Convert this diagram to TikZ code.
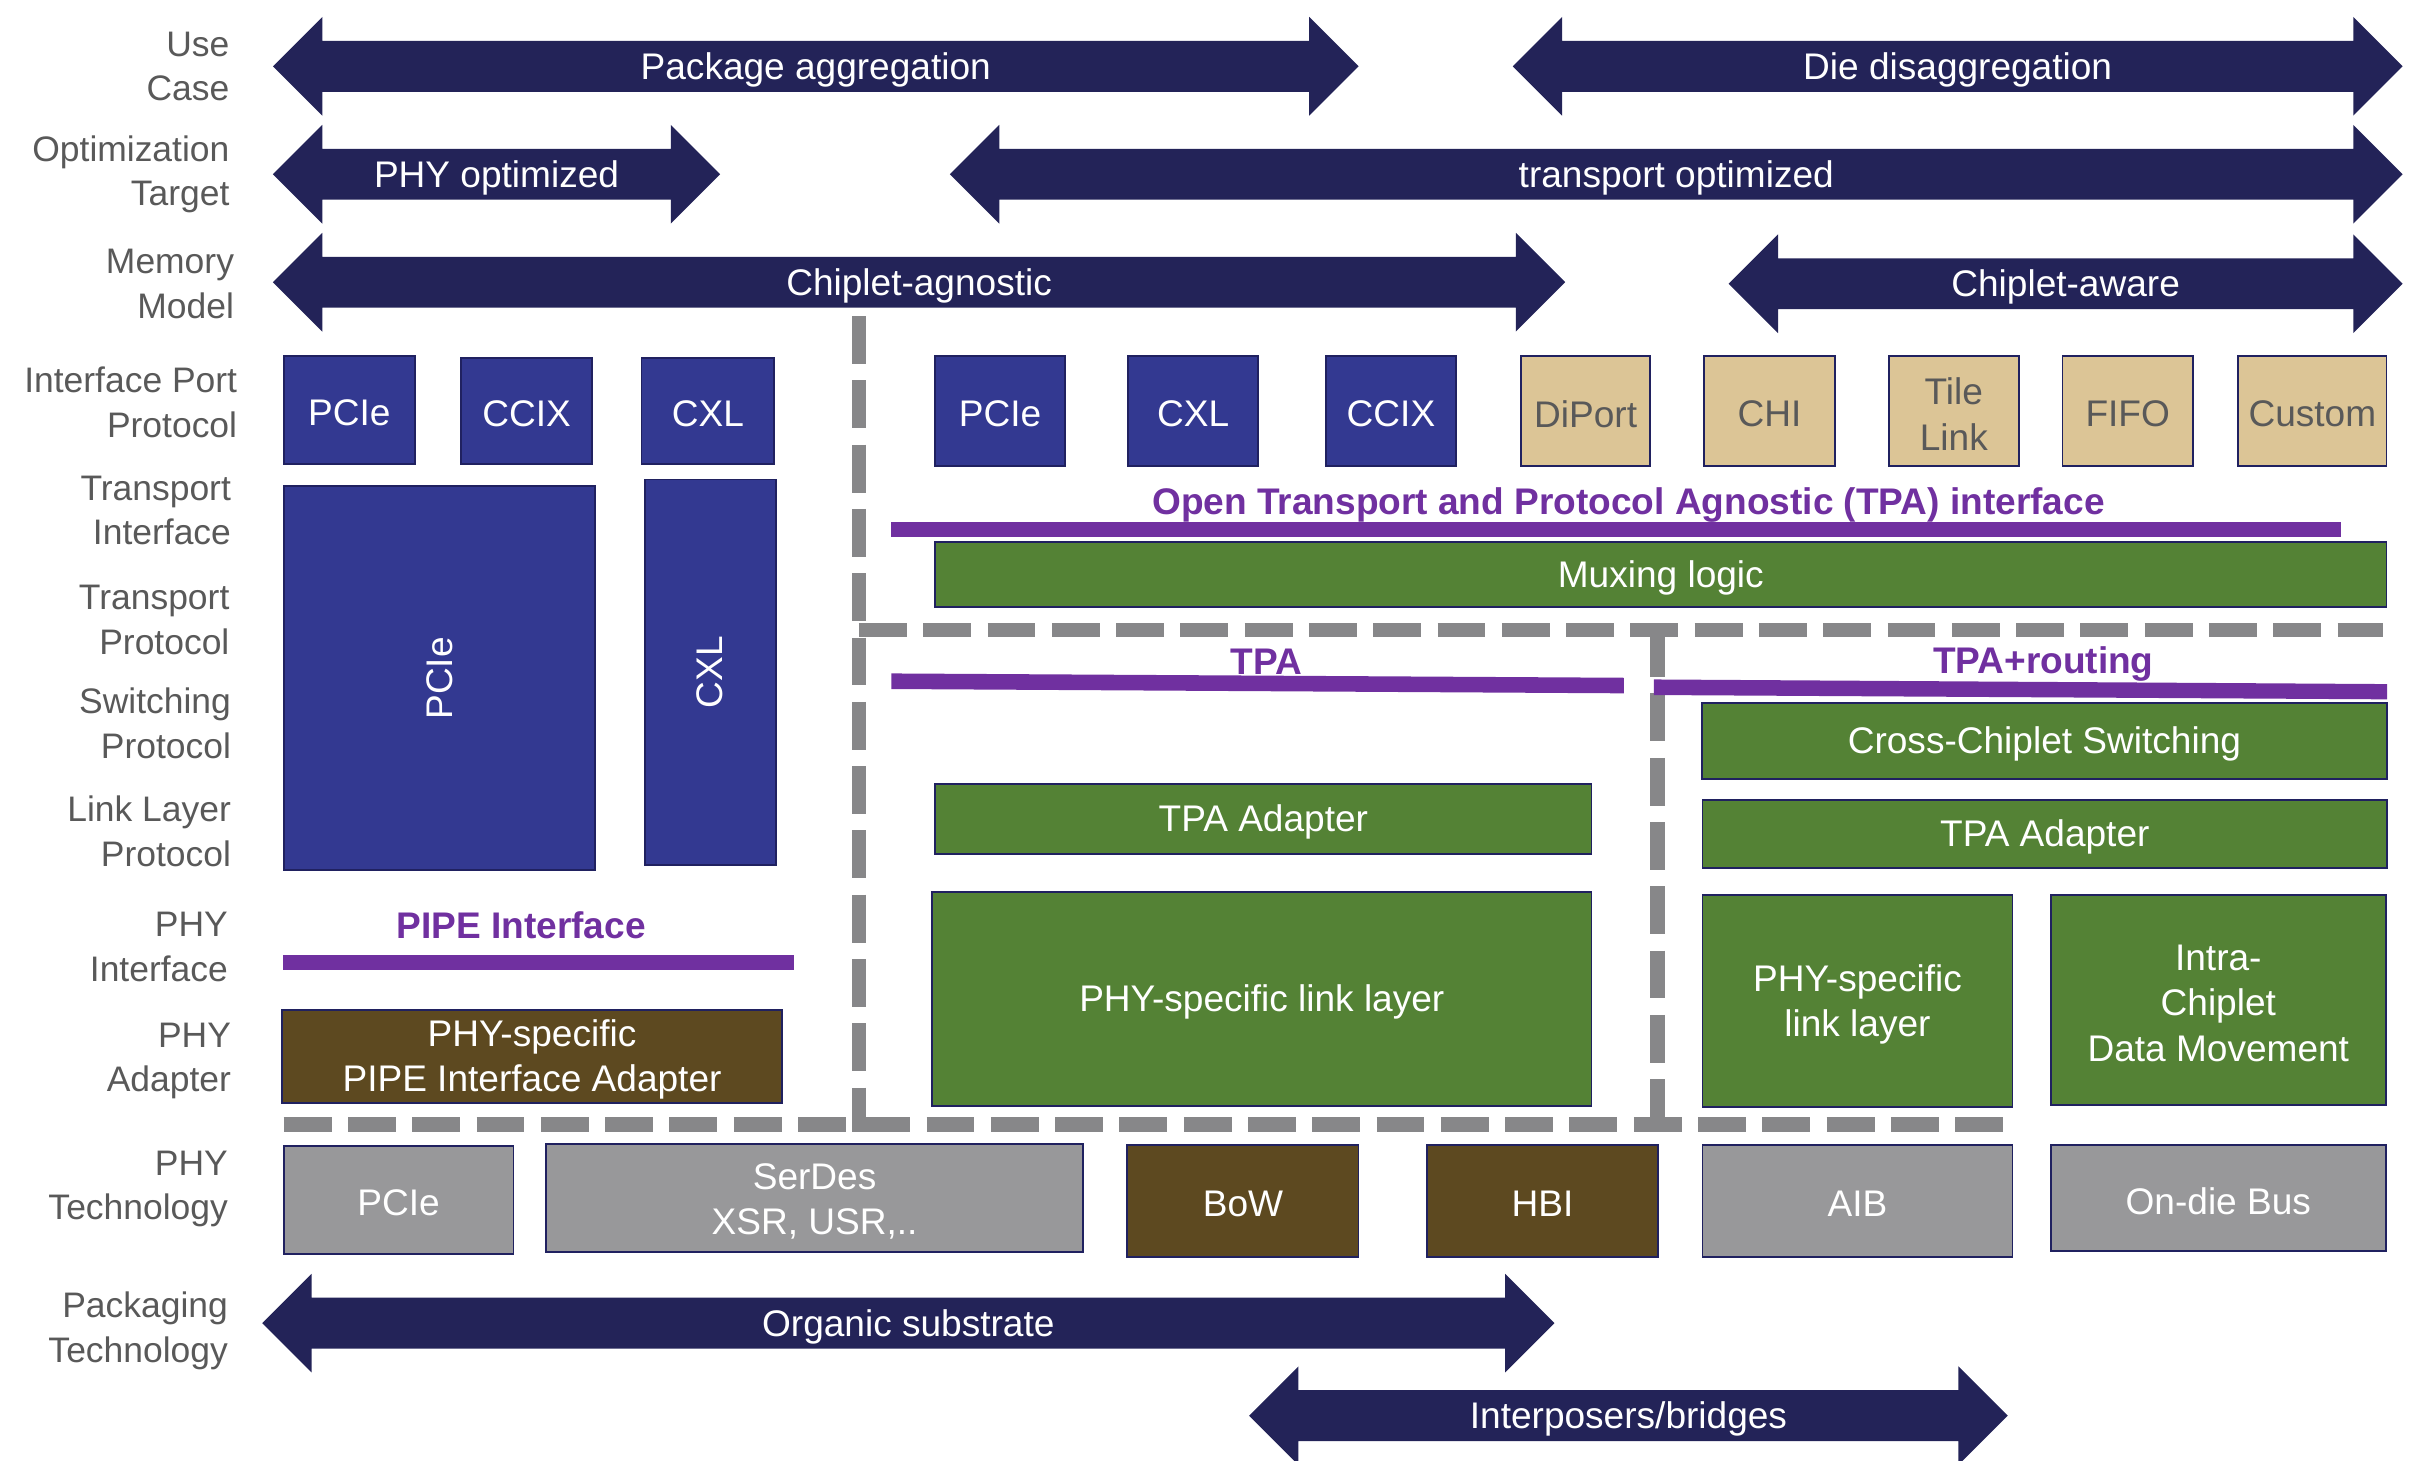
\documentclass[tikz,border=0pt]{standalone}
\usepackage{fontspec}
\setmainfont{Liberation Sans}
\definecolor{navy}{RGB}{35,35,88}
\definecolor{boxblue}{RGB}{51,57,145}
\definecolor{boxgreen}{RGB}{84,130,53}
\definecolor{boxtan}{RGB}{220,197,150}
\definecolor{boxbrown}{RGB}{93,73,32}
\definecolor{boxgray}{RGB}{152,152,154}
\definecolor{tpapurple}{RGB}{112,48,160}
\definecolor{dashgray}{RGB}{135,135,137}
\definecolor{labelgray}{RGB}{89,89,89}
\definecolor{edgeblue}{RGB}{32,33,96}
\newcommand\bx[7]{%
  \pgfmathsetmacro\bxw{(#5-#3)*0.77}\pgfmathsetmacro\bxh{(#6-#4)*0.77}%
  \node[blk,#2,minimum width=\bxw pt,minimum height=\bxh pt] (#1) at ({(#3+#5)/2},{(#4+#6)/2}) {};
  \node[boxtext,#2] (#1t) at ([yshift=-1.5pt]#1.center) {#7};}
\newcommand\dbl[5]{%
  \fill[navy] (#2,#4) -- ++(32,-32) -- ++(0,15.5) -- ({#3-32},{#4-16.5}) -- ++(0,-15.5) -- (#3,#4)
     -- ({#3-32},{#4+32}) -- ++(0,-15.5) -- ({#2+32},{#4+16.5}) -- ++(0,15.5) -- cycle;
  \node[arrtext] (#1) at ({(#2+#3)/2},#4) {#5};}
\begin{document}
\begin{tikzpicture}[x=0.77pt,y=-0.77pt,
  lbl/.style={anchor=east,align=right,text=labelgray,font=\fontsize{17.7}{22.3}\selectfont,inner sep=0pt},
  blk/.style={draw=edgeblue,line width=0.9pt,inner sep=0pt},
  boxtext/.style={text=white,align=center,font=\fontsize{18.5}{22.7}\selectfont,inner sep=0pt},
  arrtext/.style={text=white,font=\fontsize{18.5}{22.7}\selectfont,inner sep=0pt,yshift=-1.8pt},
  rottext/.style={text=white,font=\fontsize{18.5}{22.7}\selectfont,inner sep=0pt},
  blue/.style={fill=boxblue},
  green/.style={fill=boxgreen},
  tan/.style={fill=boxtan,text=labelgray},
  brown/.style={fill=boxbrown},
  grey/.style={fill=boxgray},
  ptext/.style={text=tpapurple,font=\fontsize{18.5}{22.7}\selectfont\bfseries,inner sep=0pt},
  dashline/.style={draw=dashgray,line width=7.3pt,dash pattern=on 23.9pt off 8.2pt}
]
\useasboundingbox (0,0) rectangle (1568,947);
\clip (0,0) rectangle (1568,947);

% row labels
\node[lbl] (lUse) at (149,43) {Use\\Case};
\node[lbl] (lOpt) at (149,113) {Optimization\\Target};
\node[lbl] (lMem) at (152,184) {Memory\\Model};
\node[lbl] (lIPP) at (154,261) {Interface Port\\Protocol};
\node[lbl] (lTI) at (150,331) {Transport\\Interface};
\node[lbl] (lTP) at (149,402) {Transport\\Protocol};
\node[lbl] (lSP) at (150,469) {Switching\\Protocol};
\node[lbl] (lLL) at (150,539) {Link Layer\\Protocol};
\node[lbl] (lPI) at (148,614) {PHY\\Interface};
\node[lbl] (lPA) at (150,688) {PHY\\Adapter};
\node[lbl] (lPT) at (148,771) {PHY\\Technology};
\node[lbl] (lPK) at (148,863) {Packaging\\Technology};

% double arrows
\dbl{pkg}{177}{881}{43}{Package aggregation}
\dbl{die}{981}{1558}{43}{Die disaggregation}
\dbl{phyopt}{177}{467}{113}{PHY optimized}
\dbl{trans}{616}{1558}{113}{transport optimized}
\dbl{agn}{177}{1015}{183}{Chiplet-agnostic}
\dbl{aware}{1121}{1558}{184}{Chiplet-aware}
\dbl{org}{170}{1008}{858}{Organic substrate}
\dbl{inter}{810}{1302}{918}{Interposers/bridges}

% dashed separators
\coordinate (d1a) at (557,205);
\coordinate (d1b) at (557,734);
\coordinate (d2a) at (557,408.5);
\coordinate (d2b) at (1545,408.5);
\coordinate (d3a) at (1075,408);
\coordinate (d3b) at (1075,729);
\coordinate (d4a) at (184,729);
\coordinate (d4b) at (1306,729);
\draw[dashline] (d1a) -- (d1b);
\draw[dashline] (d2a) -- (d2b);
\draw[dashline] (d3a) -- (d3b);
\draw[dashline] (d4a) -- (d4b);

% left stack
\bx{pcieA}{blue}{184}{231}{269}{301}{PCIe}
\bx{ccixA}{blue}{299}{232}{384}{301}{CCIX}
\bx{cxlA}{blue}{416}{232}{502}{301}{CXL}
\bx{pcieT}{blue}{184}{315}{386}{564}{}
\node[rottext,rotate=90] (pcieTt) at (285,440) {PCIe};
\bx{cxlT}{blue}{418}{311}{503}{561}{}
\node[rottext,rotate=90] (cxlTt) at (460,436) {CXL};

% right ports
\bx{pcieB}{blue}{606.5}{231}{690.5}{302}{PCIe}
\bx{cxlB}{blue}{731.5}{231}{816}{302}{CXL}
\bx{ccixB}{blue}{860}{231}{944}{302}{CCIX}
\bx{diport}{tan}{986.5}{231}{1070}{302}{DiPort}
\bx{chi}{tan}{1105}{231}{1190}{302}{CHI}
\bx{tile}{tan}{1225}{231}{1309}{302}{Tile\\Link}
\bx{fifo}{tan}{1337.5}{231}{1422}{302}{FIFO}
\bx{custom}{tan}{1451.5}{231}{1547.5}{302}{Custom}

% purple interfaces
\fill[tpapurple] (578,338.5) rectangle (1518,348);
\node[ptext] (tpaif) at (1056,327.5) {Open Transport and Protocol Agnostic (TPA) interface};
\fill[tpapurple] (578,436.7) -- (1053,439.5) -- (1053,449.6) -- (578,446.8) -- cycle;
\node[ptext] (tpa) at (821,429) {TPA};
\fill[tpapurple] (1072.5,440.6) -- (1548,443.6) -- (1548,453.5) -- (1072.5,450.7) -- cycle;
\node[ptext] (tpar) at (1325,430.5) {TPA+routing};
\fill[tpapurple] (183.5,619.2) rectangle (515,629);
\node[ptext] (pipe) at (338,600) {PIPE Interface};

% green blocks
\bx{mux}{green}{606.5}{351.5}{1547.5}{393.5}{Muxing logic}
\bx{ccs}{green}{1103.5}{456}{1548}{505}{Cross-Chiplet Switching}
\bx{tpaL}{green}{606.5}{508.5}{1032}{554}{TPA Adapter}
\bx{tpaR}{green}{1104}{519}{1548}{563}{TPA Adapter}
\bx{linkL}{green}{604.5}{578.5}{1032}{717}{PHY-specific link layer}
\bx{linkR}{green}{1104}{580.5}{1305}{718}{PHY-specific\\link layer}
\bx{intra}{green}{1330}{580.5}{1547}{716.5}{Intra-\\Chiplet\\Data Movement}
\bx{pipeA}{brown}{183}{655}{507}{715}{PHY-specific\\PIPE Interface Adapter}

% PHY technology
\bx{pcieP}{grey}{184}{743}{333}{813}{PCIe}
\bx{serdes}{grey}{354}{742}{702.5}{812}{SerDes\\XSR, USR,..}
\bx{bow}{brown}{731}{742.5}{881}{815}{BoW}
\bx{hbi}{brown}{925.5}{742.5}{1075}{815}{HBI}
\bx{aib}{grey}{1104}{742.5}{1305}{815}{AIB}
\bx{ondie}{grey}{1330}{742.5}{1547}{811}{On-die Bus}
\end{tikzpicture}
\end{document}
